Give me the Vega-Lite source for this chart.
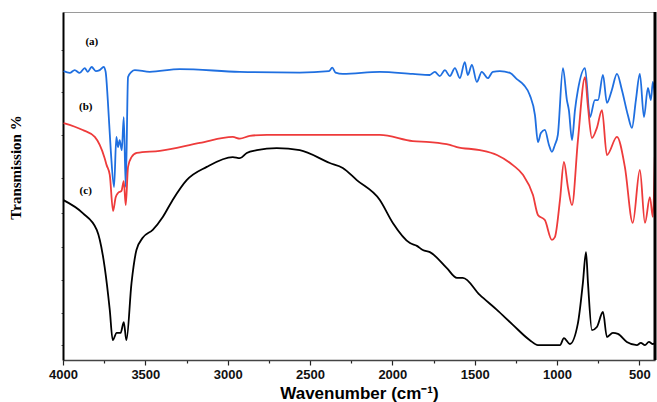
{
  "$schema": "https://vega.github.io/schema/vega-lite/v6.json",
  "width": 592,
  "height": 348,
  "autosize": {"type": "none"},
  "padding": {"left": 63, "top": 12, "right": 2, "bottom": 42},
  "background": "white",
  "config": {"view": {"stroke": "#9a9a9a", "strokeWidth": 1}},
  "datasets": {
    "spectra": [
      {"s":"a","w":3996,"t":83.0},{"s":"a","w":3959,"t":82.5},{"s":"a","w":3929,"t":83.3},{"s":"a","w":3899,"t":82.5},{"s":"a","w":3868,"t":83.9},{"s":"a","w":3850,"t":82.8},{"s":"a","w":3826,"t":84.2},{"s":"a","w":3801,"t":83.0},{"s":"a","w":3777,"t":83.3},{"s":"a","w":3753,"t":84.2},{"s":"a","w":3741,"t":82.8},{"s":"a","w":3728,"t":74.7},{"s":"a","w":3710,"t":60.3},{"s":"a","w":3690,"t":49.7},{"s":"a","w":3676,"t":64.1},{"s":"a","w":3666,"t":61.2},{"s":"a","w":3656,"t":63.2},{"s":"a","w":3643,"t":60.3},{"s":"a","w":3631,"t":69.8},{"s":"a","w":3619,"t":49.7},{"s":"a","w":3605,"t":81.3},{"s":"a","w":3584,"t":82.8},{"s":"a","w":3564,"t":83.3},{"s":"a","w":3473,"t":82.8},{"s":"a","w":3291,"t":83.6},{"s":"a","w":2927,"t":82.8},{"s":"a","w":2563,"t":82.6},{"s":"a","w":2385,"t":83.0},{"s":"a","w":2365,"t":84.0},{"s":"a","w":2345,"t":82.6},{"s":"a","w":2301,"t":82.2},{"s":"a","w":2076,"t":82.8},{"s":"a","w":1876,"t":82.2},{"s":"a","w":1773,"t":81.9},{"s":"a","w":1742,"t":82.8},{"s":"a","w":1712,"t":81.6},{"s":"a","w":1681,"t":83.3},{"s":"a","w":1651,"t":81.6},{"s":"a","w":1620,"t":83.9},{"s":"a","w":1590,"t":81.0},{"s":"a","w":1560,"t":85.6},{"s":"a","w":1542,"t":81.9},{"s":"a","w":1517,"t":84.8},{"s":"a","w":1487,"t":79.9},{"s":"a","w":1457,"t":82.8},{"s":"a","w":1420,"t":81.0},{"s":"a","w":1390,"t":82.8},{"s":"a","w":1347,"t":83.0},{"s":"a","w":1286,"t":82.5},{"s":"a","w":1244,"t":80.7},{"s":"a","w":1201,"t":79.0},{"s":"a","w":1165,"t":76.1},{"s":"a","w":1134,"t":70.4},{"s":"a","w":1116,"t":62.6},{"s":"a","w":1098,"t":65.2},{"s":"a","w":1074,"t":66.1},{"s":"a","w":1049,"t":61.8},{"s":"a","w":1031,"t":59.8},{"s":"a","w":1013,"t":61.8},{"s":"a","w":995,"t":64.7},{"s":"a","w":964,"t":83.9},{"s":"a","w":940,"t":74.7},{"s":"a","w":928,"t":71.8},{"s":"a","w":909,"t":63.2},{"s":"a","w":891,"t":71.8},{"s":"a","w":873,"t":77.6},{"s":"a","w":830,"t":83.9},{"s":"a","w":800,"t":69.8},{"s":"a","w":770,"t":74.7},{"s":"a","w":751,"t":74.7},{"s":"a","w":721,"t":81.9},{"s":"a","w":697,"t":73.9},{"s":"a","w":667,"t":77.6},{"s":"a","w":636,"t":82.2},{"s":"a","w":606,"t":77.6},{"s":"a","w":570,"t":70.4},{"s":"a","w":545,"t":66.7},{"s":"a","w":521,"t":74.7},{"s":"a","w":497,"t":82.2},{"s":"a","w":472,"t":69.8},{"s":"a","w":448,"t":78.2},{"s":"a","w":430,"t":74.7},{"s":"a","w":418,"t":79.9},{"s":"a","w":406,"t":76.1},

      {"s":"b","w":3996,"t":68.1},{"s":"b","w":3880,"t":66.1},{"s":"b","w":3807,"t":64.1},{"s":"b","w":3777,"t":61.8},{"s":"b","w":3747,"t":58.0},{"s":"b","w":3735,"t":56.0},{"s":"b","w":3716,"t":53.2},{"s":"b","w":3696,"t":42.8},{"s":"b","w":3680,"t":46.8},{"s":"b","w":3666,"t":48.0},{"s":"b","w":3645,"t":48.6},{"s":"b","w":3631,"t":51.4},{"s":"b","w":3619,"t":44.5},{"s":"b","w":3605,"t":55.5},{"s":"b","w":3584,"t":58.3},{"s":"b","w":3552,"t":59.5},{"s":"b","w":3412,"t":60.1},{"s":"b","w":3169,"t":62.4},{"s":"b","w":2969,"t":64.1},{"s":"b","w":2926,"t":63.6},{"s":"b","w":2866,"t":64.4},{"s":"b","w":2762,"t":64.7},{"s":"b","w":2380,"t":64.7},{"s":"b","w":2076,"t":64.7},{"s":"b","w":1876,"t":62.9},{"s":"b","w":1773,"t":62.6},{"s":"b","w":1651,"t":61.8},{"s":"b","w":1608,"t":61.2},{"s":"b","w":1468,"t":60.3},{"s":"b","w":1365,"t":58.9},{"s":"b","w":1268,"t":56.0},{"s":"b","w":1207,"t":53.2},{"s":"b","w":1146,"t":47.4},{"s":"b","w":1116,"t":41.7},{"s":"b","w":1074,"t":40.2},{"s":"b","w":1031,"t":34.5},{"s":"b","w":1013,"t":35.3},{"s":"b","w":982,"t":46.0},{"s":"b","w":958,"t":56.9},{"s":"b","w":934,"t":49.7},{"s":"b","w":909,"t":44.5},{"s":"b","w":873,"t":63.2},{"s":"b","w":830,"t":81.3},{"s":"b","w":812,"t":72.7},{"s":"b","w":788,"t":63.8},{"s":"b","w":758,"t":66.7},{"s":"b","w":727,"t":71.8},{"s":"b","w":697,"t":58.9},{"s":"b","w":636,"t":64.1},{"s":"b","w":588,"t":55.5},{"s":"b","w":540,"t":39.4},{"s":"b","w":497,"t":54.6},{"s":"b","w":466,"t":39.4},{"s":"b","w":436,"t":46.8},{"s":"b","w":418,"t":41.1},{"s":"b","w":406,"t":58.3},

      {"s":"c","w":4000,"t":46.0},{"s":"c","w":3880,"t":42.2},{"s":"c","w":3795,"t":37.4},{"s":"c","w":3747,"t":26.7},{"s":"c","w":3716,"t":14.4},{"s":"c","w":3698,"t":5.7},{"s":"c","w":3674,"t":7.8},{"s":"c","w":3650,"t":7.8},{"s":"c","w":3631,"t":10.9},{"s":"c","w":3615,"t":5.7},{"s":"c","w":3584,"t":22.1},{"s":"c","w":3554,"t":31.6},{"s":"c","w":3516,"t":35.1},{"s":"c","w":3455,"t":37.4},{"s":"c","w":3394,"t":41.1},{"s":"c","w":3334,"t":46.0},{"s":"c","w":3249,"t":51.7},{"s":"c","w":3127,"t":55.5},{"s":"c","w":2969,"t":58.3},{"s":"c","w":2926,"t":58.0},{"s":"c","w":2884,"t":59.5},{"s":"c","w":2823,"t":60.3},{"s":"c","w":2702,"t":60.9},{"s":"c","w":2562,"t":60.3},{"s":"c","w":2380,"t":56.6},{"s":"c","w":2301,"t":55.2},{"s":"c","w":2216,"t":51.7},{"s":"c","w":2076,"t":46.0},{"s":"c","w":1997,"t":39.4},{"s":"c","w":1893,"t":33.6},{"s":"c","w":1851,"t":32.8},{"s":"c","w":1815,"t":31.6},{"s":"c","w":1772,"t":31.0},{"s":"c","w":1669,"t":26.4},{"s":"c","w":1608,"t":23.6},{"s":"c","w":1572,"t":23.6},{"s":"c","w":1469,"t":18.7},{"s":"c","w":1365,"t":14.4},{"s":"c","w":1268,"t":10.1},{"s":"c","w":1165,"t":5.7},{"s":"c","w":1116,"t":4.3},{"s":"c","w":982,"t":4.3},{"s":"c","w":958,"t":6.3},{"s":"c","w":922,"t":4.6},{"s":"c","w":873,"t":10.6},{"s":"c","w":843,"t":22.1},{"s":"c","w":824,"t":31.0},{"s":"c","w":812,"t":22.1},{"s":"c","w":788,"t":8.6},{"s":"c","w":758,"t":9.5},{"s":"c","w":721,"t":13.8},{"s":"c","w":697,"t":6.6},{"s":"c","w":661,"t":7.8},{"s":"c","w":630,"t":7.5},{"s":"c","w":576,"t":5.2},{"s":"c","w":515,"t":4.3},{"s":"c","w":491,"t":4.9},{"s":"c","w":466,"t":4.3},{"s":"c","w":442,"t":5.2},{"s":"c","w":418,"t":4.6},{"s":"c","w":406,"t":4.9}
    ],
    "labels": [
      {"w":3825,"t":91.4,"label":"(a)"},
      {"w":3862,"t":72.7,"label":"(b)"},
      {"w":3862,"t":48.6,"label":"(c)"}
    ],
    "border": [{"w":405}]
  },
  "layer": [
    {
      "data": {"name": "spectra"},
      "mark": {"type": "line", "strokeWidth": 1.8, "interpolate": "monotone", "clip": true},
      "encoding": {
        "x": {
          "field": "w", "type": "quantitative",
          "scale": {"domain": [4000, 405], "nice": false, "zero": false},
          "axis": {
            "title": "Wavenumber (cm⁻¹)",
            "titleFont": "Liberation Sans", "titleFontSize": 17, "titleFontWeight": 900, "titleColor": "#000",
            "titlePadding": 4,
            "values": [4000, 3750, 3500, 3250, 3000, 2750, 2500, 2250, 2000, 1750, 1500, 1250, 1000, 750, 500],
            "labelExpr": "datum.value % 500 === 0 ? format(datum.value, 'd') : ''",
            "labelFont": "Liberation Sans", "labelFontSize": 13, "labelFontWeight": "bold", "labelColor": "#111",
            "labelPadding": 3, "labelFlush": false,
            "grid": false, "tickColor": "#222",
            "tickSize": {"condition": {"test": "datum.value % 500 === 0", "value": 5}, "value": 3},
            "tickWidth": 1.2,
            "domainColor": "#444", "domainWidth": 1.5
          }
        },
        "y": {
          "field": "t", "type": "quantitative",
          "scale": {"domain": [0, 100], "nice": false, "zero": false},
          "axis": {
            "title": "Transmission %",
            "titleFont": "Liberation Serif", "titleFontSize": 15, "titleFontWeight": "bold", "titleColor": "#000",
            "titleX": -40, "titleY": 155, "titleAngle": 270, "titleAlign": "center", "titleBaseline": "bottom",
            "labels": false,
            "values": [89.1, 83.0, 77.0, 71.0, 64.7, 58.3, 52.3, 46.8, 42.2, 37.4, 32.5, 27.9, 23.0, 18.1, 13.5, 8.6, 4.3],
            "grid": false, "tickColor": "#555", "tickSize": 2, "tickWidth": 1,
            "domainColor": "#000", "domainWidth": 2
          }
        },
        "color": {
          "field": "s", "type": "nominal",
          "scale": {"domain": ["a", "b", "c"], "range": ["#1f6fe0", "#ee3b3b", "#000000"]},
          "legend": null
        }
      }
    },
    {
      "data": {"name": "labels"},
      "mark": {"type": "text", "font": "Liberation Serif", "fontSize": 11, "fontWeight": "bold", "align": "center", "baseline": "middle", "color": "#000"},
      "encoding": {
        "x": {"field": "w", "type": "quantitative"},
        "y": {"field": "t", "type": "quantitative"},
        "text": {"field": "label"}
      }
    },
    {
      "data": {"name": "border"},
      "mark": {"type": "rule", "color": "#000", "strokeWidth": 3},
      "encoding": {
        "x": {"field": "w", "type": "quantitative"}
      }
    }
  ]
}
